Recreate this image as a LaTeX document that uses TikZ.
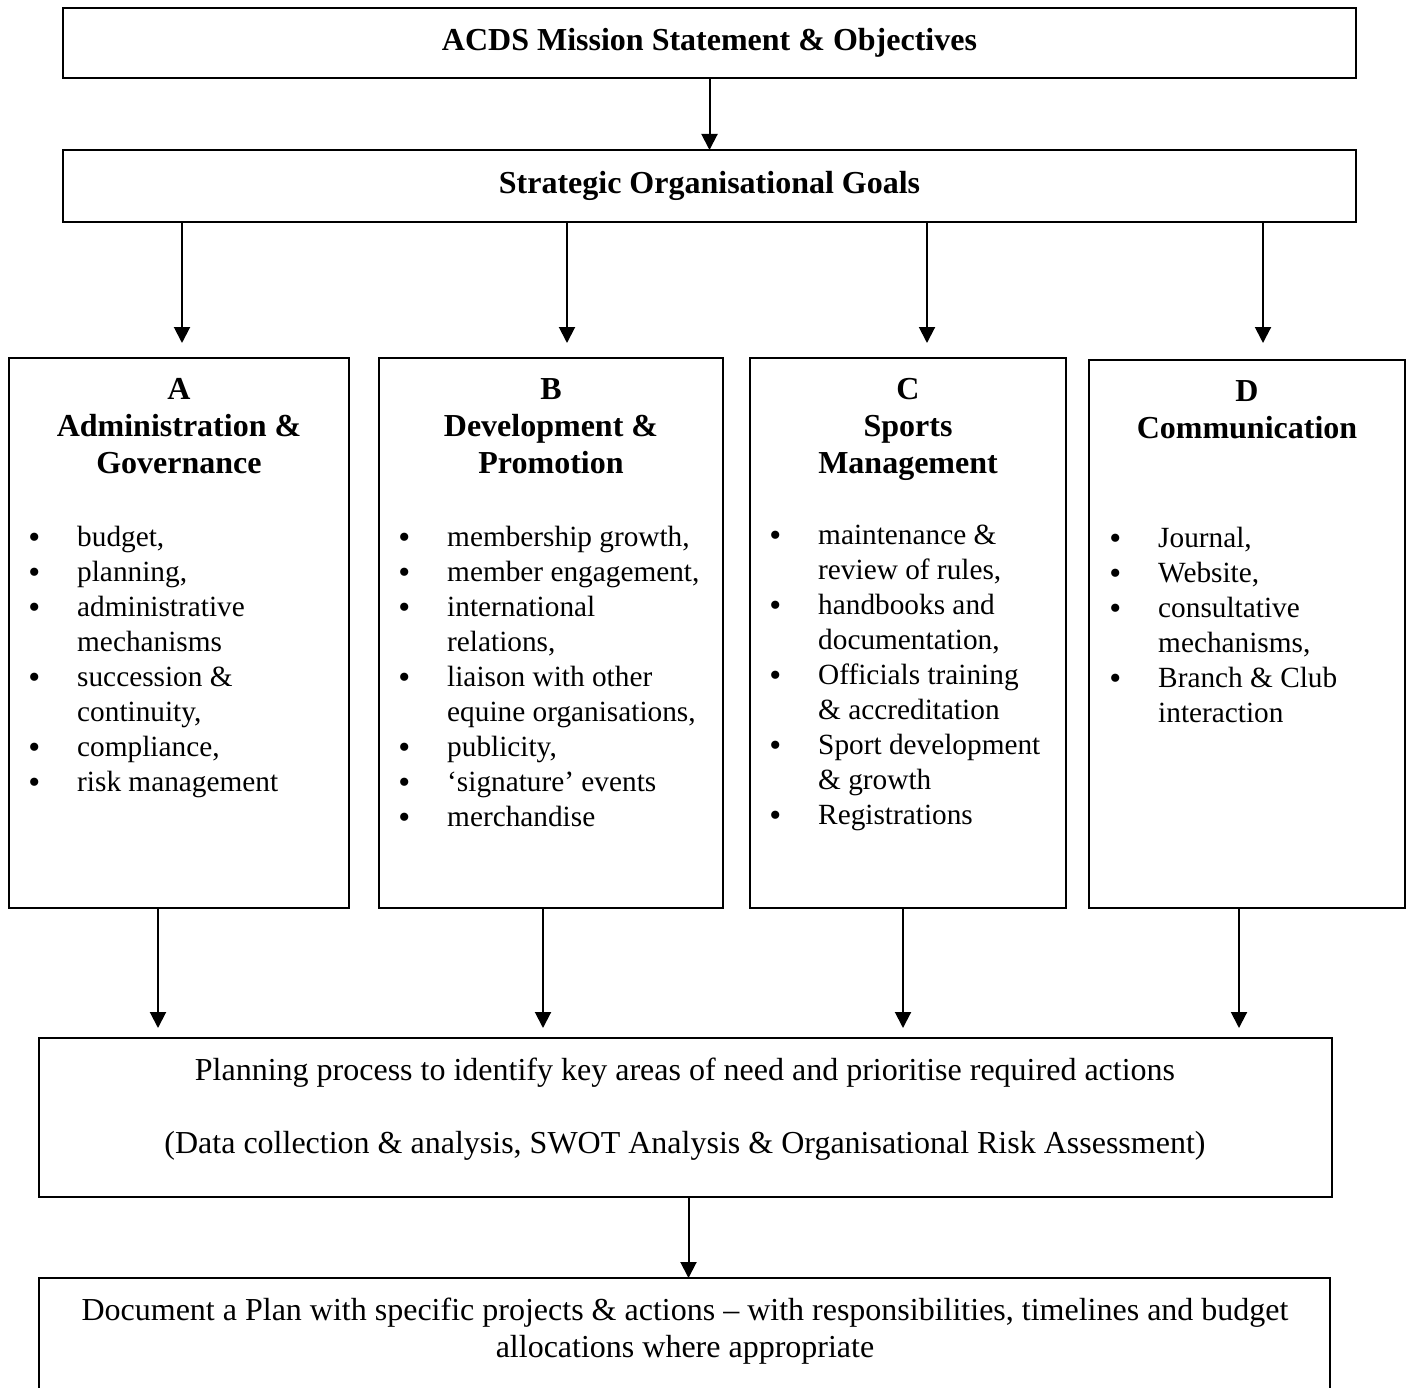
\documentclass[tikz,border=0pt]{standalone}
\usepackage{fontspec}
\setmainfont{Liberation Serif}
\usetikzlibrary{arrows.meta, positioning}

\newcommand{\bul}{\llap{\raisebox{-2pt}{\fontsize{34}{35}\selectfont\textbullet}\hspace{37pt}}}

\begin{document}
\begin{tikzpicture}[
  x=1pt, y=-1pt,
  font=\fontsize{32}{37}\selectfont,
  box/.style={draw, line width=2pt, anchor=north west, inner sep=0pt, outer sep=0pt},
  head/.style={anchor=north, align=center, inner sep=0pt, font=\fontsize{32}{37}\selectfont\bfseries},
  items/.style={anchor=north west, align=left, inner sep=0pt, font=\fontsize{29.3}{35}\selectfont},
  txt/.style={anchor=north, align=center, inner sep=0pt},
  arr/.style={-{Triangle[length=16pt, width=16pt]}, line width=2pt}
]
  \useasboundingbox (0,0) rectangle (1410,1388);
  \clip (0,0) rectangle (1410,1388);

  \node[box, minimum width=1293pt, minimum height=70pt, font=\fontsize{32}{37}\selectfont\bfseries] (mission) at (63,8) {ACDS Mission Statement \& Objectives};
  \node[box, minimum width=1293pt, minimum height=72pt, font=\fontsize{32}{37}\selectfont\bfseries] (goals) at (63,150) {Strategic Organisational Goals};

  \node[box, minimum width=340pt, minimum height=550pt] (boxA) at (9,358) {};
  \node[box, minimum width=344pt, minimum height=550pt] (boxB) at (379,358) {};
  \node[box, minimum width=316pt, minimum height=550pt] (boxC) at (750,358) {};
  \node[box, minimum width=316pt, minimum height=548pt] (boxD) at (1089,360) {};

  \node[head] (headA) at (179,378) {A\\Administration \&\\Governance};
  \node[head] (headB) at (551,378) {B\\Development \&\\Promotion};
  \node[head] (headC) at (908,378) {C\\Sports\\Management};
  \node[head] (headD) at (1247,380) {D\\Communication};

  \node[items] (listA) at (77,526) {\bul budget,\\\bul planning,\\\bul administrative\\mechanisms\\\bul succession \&\\continuity,\\\bul compliance,\\\bul risk management};
  \node[items] (listB) at (447,526) {\bul membership growth,\\\bul member engagement,\\\bul international\\relations,\\\bul liaison with other\\equine organisations,\\\bul publicity,\\\bul ‘signature’ events\\\bul merchandise};
  \node[items] (listC) at (818,525) {\bul maintenance \&\\review of rules,\\\bul handbooks and\\documentation,\\\bul Officials training\\\& accreditation\\\bul Sport development\\\& growth\\\bul Registrations};
  \node[items] (listD) at (1158,527) {\bul Journal,\\\bul Website,\\\bul consultative\\mechanisms,\\\bul Branch \& Club\\interaction};

  \node[box, minimum width=1293pt, minimum height=159pt] (planning) at (39,1038) {};
  \node[txt] (planText) at (685,1058) {Planning process to identify key areas of need and prioritise required actions\\[36pt](Data collection \& analysis, SWOT Analysis \& Organisational Risk Assessment)};

  \node[box, minimum width=1291pt, minimum height=200pt] (plan) at (39,1278) {};
  \node[txt] (planDoc) at (685,1298) {Document a Plan with specific projects \& actions – with responsibilities, timelines and budget\\allocations where appropriate};

  \coordinate (inA) at (182,343);
  \coordinate (inB) at (567,343);
  \coordinate (inC) at (927,343);
  \coordinate (inD) at (1263,343);
  \coordinate (outA) at (158,1028);
  \coordinate (outB) at (543,1028);
  \coordinate (outC) at (903,1028);
  \coordinate (outD) at (1239,1028);

  \draw[arr] (mission.south) -- (goals.north);
  \draw[arr] (goals.south -| inA) -- (inA);
  \draw[arr] (goals.south -| inB) -- (inB);
  \draw[arr] (goals.south -| inC) -- (inC);
  \draw[arr] (goals.south -| inD) -- (inD);
  \draw[arr] (boxA.south -| outA) -- (outA);
  \draw[arr] (boxB.south -| outB) -- (outB);
  \draw[arr] (boxC.south -| outC) -- (outC);
  \draw[arr] (boxD.south -| outD) -- (outD);
  \draw[arr] ([xshift=3pt]planning.south) -- ([xshift=3pt]planning.south |- plan.north);
\end{tikzpicture}
\end{document}
